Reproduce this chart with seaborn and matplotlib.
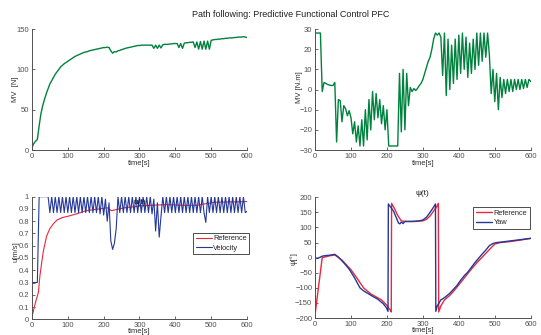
import numpy as np
import matplotlib
matplotlib.use('Agg')
import matplotlib.pyplot as plt
import seaborn as sns

# common 5 s time grid for the sampled signals
t5 = np.arange(0, 605, 5)

force = [3, 8, 11, 13, 30, 45, 55, 63, 70, 76,
         82, 86, 90, 94, 97, 100, 103, 105, 107, 108.5,
         110, 111.5, 113, 114.5, 116, 117, 118, 119, 120, 121,
         121.5, 122, 123, 123.5, 124, 124.5, 125, 125.5, 126, 126.5,
         127, 127, 127.5, 127, 123, 120, 122, 121.5, 123, 123.5,
         124.5, 125, 126, 126.5, 127, 127.5, 128, 128.5, 129, 129.5,
         129.5, 130, 130, 130, 130, 130, 130, 130, 126, 130,
         126, 130, 126.5, 130.5, 131, 131, 131, 131.5, 131.5, 132,
         132, 132, 127, 132, 126, 132.5, 133, 133, 133.5, 133.5,
         134, 127, 134, 125, 134.5, 125, 135, 125, 135, 125,
         136, 136.5, 137, 137, 137.5, 137.5, 138, 138, 138.5, 138.5,
         139, 139, 139, 139.5, 139.5, 140, 140, 140, 140.5, 140,
         139.5]

torque = [28, 28, 28, 28, -1, 3.5, 3, 2.5, 2.2, 2,
          2, 3.5, -26, -5, -5.5, -16, -8, -9.5, -13, -10.5,
          -14, -22, -16, -26, -18, -28, -15, -28, -10, -25,
          -5, -20, -1, -15, -2, -14, -5, -17, -8, -20,
          -10, -28, -28, -28, -28, -28, -28, 8, -21, 10,
          -20, 8, -8, 1, -1, 0.5, -0.5, 0.5, 2, 3,
          5, 8, 11, 14, 16, 20, 25, 28, 27, 28,
          26, 7, 28, -3, 25, 0, 22, 3, 25, 5,
          27, 8, 28, 10, 26, 6, 23, 8, 25, 10,
          28, 12, 28, 14, 28, 16, 28, 17, -2, 10,
          -6, 8, -10, 6, -4, 5, -2, 5, -1, 5,
          -1, 5, 0, 5, 0, 5, 0.5, 5, 1, 5,
          4]

velocity = [0.3, 0.3, 0.3, 0.3, 1, 1, 1, 1, 1, 1,
            0.87, 1, 0.87, 1, 0.87, 1, 0.87, 1, 0.87, 1,
            0.87, 1, 0.87, 1, 0.87, 1, 0.87, 1, 0.87, 1,
            0.87, 1, 0.87, 1, 0.87, 1, 0.87, 1, 0.86, 1,
            0.85, 0.98, 0.8, 0.95, 0.64, 0.57, 0.62, 0.74, 1, 0.87,
            1, 0.87, 1, 0.87, 1, 0.87, 1, 0.87, 1, 0.87,
            1, 0.87, 1, 0.87, 1, 0.87, 1, 0.86, 0.98, 0.72,
            0.95, 0.67, 0.84, 1, 0.87, 1, 0.87, 1, 0.87, 1,
            0.87, 1, 0.87, 1, 0.87, 1, 0.87, 1, 0.87, 1,
            0.87, 1, 0.87, 1, 0.87, 1, 0.87, 0.79, 1, 0.87,
            1, 0.87, 1, 0.87, 1, 0.87, 1, 0.87, 1, 0.87,
            1, 0.87, 1, 0.87, 1, 0.87, 1, 0.87, 1, 0.87,
            0.88]

vref_t = [0, 5, 10, 15, 18, 22, 27, 32, 41, 50, 60, 70, 85, 100, 125, 150,
          175, 200, 210, 222, 235, 260, 290, 330, 375, 420, 460, 480, 500, 515, 550, 600]
vref = [0.02, 0.08, 0.14, 0.19, 0.22, 0.35, 0.46, 0.56, 0.68, 0.74, 0.78, 0.81, 0.83, 0.84, 0.86, 0.885,
        0.895, 0.905, 0.91, 0.885, 0.895, 0.91, 0.92, 0.93, 0.935, 0.93, 0.93, 0.94, 0.95, 0.955, 0.957, 0.96]

yaw_t = [0, 5, 10, 20, 30, 40, 55, 65, 80, 95,
         110, 125, 135, 145, 160, 175, 190, 198, 203, 204,
         210, 218, 227, 232, 236, 240, 245, 250, 270, 290,
         300, 310, 320, 330, 335, 336, 340, 345, 350, 357,
         365, 375, 385, 395, 405, 415, 425, 435, 445, 455,
         465, 475, 485, 495, 505, 520, 540, 560, 580, 600]
yaw = [0, -2, -1, 5, 7, 8, 11, 2, -17, -38,
       -67, -100, -110, -117, -128, -138, -153, -165, -178, 178,
       168, 155, 130, 115, 112, 118, 113, 120, 120, 122,
       125, 134, 150, 168, 178, -178, -160, -150, -140, -135,
       -128, -118, -105, -92, -75, -60, -48, -32, -16, -2,
       12, 25, 40, 47, 50, 52, 55, 58, 61, 64]

yref_t = [0, 1, 20, 40, 55, 75, 100, 115, 135, 155,
          170, 185, 200, 210, 212, 213, 220, 230, 240, 250,
          280, 300, 310, 320, 330, 338, 343, 344, 350, 360,
          375, 390, 410, 430, 450, 470, 490, 500, 515, 540,
          570, 600]
yref = [180, -180, 0, 6, 9, -8, -40, -65, -100, -120,
        -130, -140, -158, -175, -180, 180, 165, 140, 122, 120,
        120, 122, 127, 138, 155, 168, 180, -180, -160, -140,
        -125, -105, -75, -45, -17, 8, 33, 45, 50, 53,
        58, 64]

u_ticklabels = ['0', '0.1', '0.2', '0.3', '0.4', '0.5', '0.6', '0.7', '0.8', '0.9', '1']

green = '#00823e'
red = '#e8283c'
blue = '#24389a'
grey = '#505050'

sns.set_style('ticks')
plt.rcParams['font.family'] = ['Liberation Sans', 'DejaVu Sans']
plt.rcParams.update({
    'font.size': 5.5,
    'xtick.direction': 'in', 'ytick.direction': 'in',
    'xtick.major.size': 2, 'ytick.major.size': 2,
    'xtick.major.width': 0.6, 'ytick.major.width': 0.6,
    'xtick.major.pad': 2, 'ytick.major.pad': 2,
    'xtick.color': grey, 'ytick.color': grey,
    'axes.edgecolor': grey, 'axes.linewidth': 0.7,
    'axes.labelcolor': '#303030',
})

fig = plt.figure(figsize=(5.41, 3.35), dpi=100)
ax1 = fig.add_axes([0.0591, 0.5522, 0.3975, 0.3612])
ax2 = fig.add_axes([0.5823, 0.5522, 0.3987, 0.3612])
ax3 = fig.add_axes([0.0591, 0.0469, 0.3975, 0.3660])
ax4 = fig.add_axes([0.5823, 0.0507, 0.3987, 0.3603])

sns.lineplot(x=t5, y=force, ax=ax1, color=green, lw=1.0, estimator=None, sort=False)
ax1.set_ylim(0, 150)
ax1.set_yticks([0, 50, 100, 150])
ax1.set_ylabel('MV  [N]')
ax1.yaxis.set_label_coords(-0.062, 0.5)

sns.lineplot(x=t5, y=torque, ax=ax2, color=green, lw=1.0, estimator=None, sort=False)
ax2.set_ylim(-30, 30)
ax2.set_yticks(range(-30, 31, 10))
ax2.set_ylabel('MV [N.m]')
ax2.yaxis.set_label_coords(-0.056, 0.52)

sns.lineplot(x=vref_t, y=vref, ax=ax3, color=red, lw=0.8, estimator=None, sort=False, label='Reference')
sns.lineplot(x=t5, y=velocity, ax=ax3, color=blue, lw=0.8, estimator=None, sort=False, label='Velocity')
ax3.set_ylim(0, 1)
ax3.set_yticks(np.linspace(0, 1, 11))
ax3.set_yticklabels(u_ticklabels)
ax3.set_ylabel('u[m/s]')
ax3.yaxis.set_label_coords(-0.056, 0.55)
ax3.text(0.5, 0.955, 'u(t)', transform=ax3.transAxes, ha='center', va='center', fontsize=6,
         color='#101010', zorder=10)

leg_kw = dict(loc='upper left', fancybox=False, edgecolor='#303030', framealpha=1,
              handlelength=2.2, handletextpad=0.2, borderpad=0.35, labelspacing=0.3,
              borderaxespad=0, fontsize=5.3)
ax3.legend(bbox_to_anchor=(0.749, 0.706), **leg_kw).get_frame().set_linewidth(0.6)

sns.lineplot(x=yref_t, y=yref, ax=ax4, color=red, lw=1.0, estimator=None, sort=False, label='Reference')
sns.lineplot(x=yaw_t, y=yaw, ax=ax4, color=blue, lw=1.0, estimator=None, sort=False, label='Yaw')
ax4.set_ylim(-200, 200)
ax4.set_yticks(range(-200, 201, 50))
ax4.set_ylabel('ψ[°]')
ax4.yaxis.set_label_coords(-0.079, 0.49)
ax4.set_title('ψ(t)', fontsize=6, pad=2, color='#202020')
ax4.legend(bbox_to_anchor=(0.734, 0.917), **leg_kw).get_frame().set_linewidth(0.6)

for ax in [ax1, ax2, ax3, ax4]:
    ax.set_xlim(0, 600)
    ax.set_xticks(range(0, 601, 100))
    ax.set_xlabel('time[s]', labelpad=0.5)
    sns.despine(ax=ax)

ax3.set_xlabel('time[s]', labelpad=-0.5)
ax4.set_xlabel('time[s]', labelpad=-0.5)

fig.text(0.538, 0.958, 'Path following: Predictive Functional Control PFC', ha='center', va='center',
         fontsize=6.5, color='#202020')

fig.savefig('out.png', dpi=100)
